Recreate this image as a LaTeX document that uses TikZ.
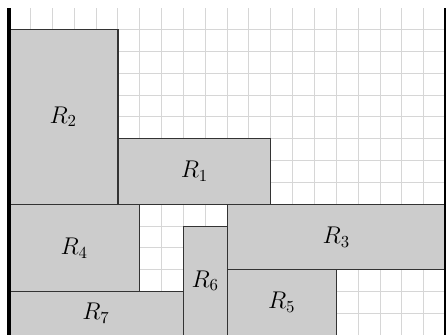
\documentclass[tikz,border=0pt]{standalone}
\begin{document}
\begin{tikzpicture}[x=13pt,y=13pt,
  gridline/.style={draw=black!16,line width=0.6pt},
  rectbox/.style={draw=black!80,fill=black!20,line width=0.7pt},
  lbl/.style={font=\Large},
  wall/.style={draw=black,line width=2.2pt}]
\useasboundingbox (-0.40,0.02) rectangle (20.02,15.352);
\foreach \i in {1,...,19} \draw[gridline] (\i,0) -- (\i,15);
\foreach \j in {1,...,14} \draw[gridline] (0,\j) -- (20,\j);
\draw[rectbox] (0,6) rectangle (5,14) node[midway,lbl] (r2) {$R_2$};
\draw[rectbox] (5,6) rectangle (12,9) node[midway,lbl] (r1) {$R_1$};
\draw[rectbox] (0,2) rectangle (6,6) node[midway,lbl] (r4) {$R_4$};
\draw[rectbox] (10,3) rectangle (20,6) node[midway,lbl] (r3) {$R_3$};
\draw[rectbox] (8,0) rectangle (10,5) node[midway,lbl] (r6) {$R_6$};
\draw[rectbox] (10,0) rectangle (15,3) node[midway,lbl] (r5) {$R_5$};
\draw[rectbox] (0,0) rectangle (8,2) node[midway,lbl] (r7) {$R_7$};
\draw[wall] (0,0) -- (0,15);
\draw[wall] (20,0) -- (20,15);
\end{tikzpicture}
\end{document}
